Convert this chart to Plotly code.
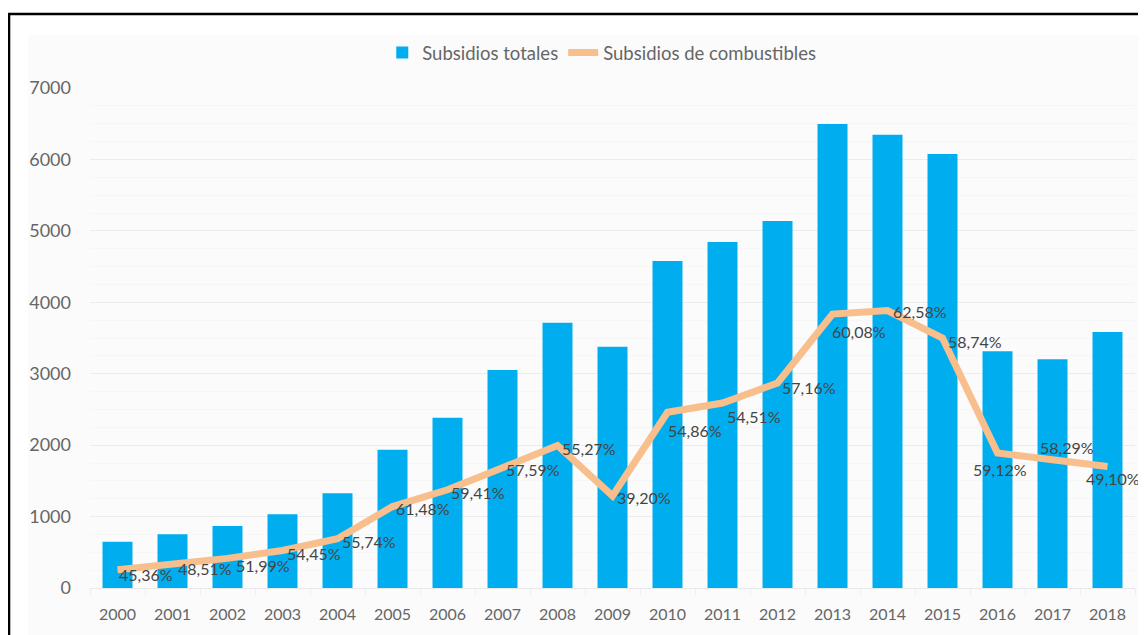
import plotly.graph_objects as go

years = [str(y) for y in range(2000, 2019)]
subsidios_totales = [648, 751, 868, 1031, 1325, 1935, 2385, 3052, 3714, 3378,
                     4578, 4844, 5138, 6496, 6346, 6076, 3314, 3202, 3584]
subsidios_combustibles = [255, 335, 415, 525, 690, 1140, 1375, 1685, 1995, 1290,
                          2460, 2590, 2870, 3835, 3885, 3500, 1890, 1795, 1700]
etiquetas = ["45,36%", "48,51%", "51,99%", "54,45%", "55,74%", "61,48%", "59,41%",
             "57,59%", "55,27%", "39,20%", "54,86%", "54,51%", "57,16%", "60,08%",
             "62,58%", "58,74%", "59,12%", "58,29%", "49,10%"]
# label offsets from each line point (pixels: right, down)
desplaz_x = [28, 32, 35, 31, 31, 30, 30, 30, 31, 31, 27, 31, 31, 26, 32, 32, 2, 14, 5]
desplaz_y = [5, 4, 7, 3, 3, 2, 3, 2, 3, 2, 18, 13, 4, 17, 1, 3, 16, -12, 12]

# page body margin offsets the figure by 8px inside the window
OFF = 8
W, H = 1146 - OFF, 635 - OFF
L = 90 - OFF
T = 88 - OFF
B = H - (588 - OFF)
R = W - (1135.5 - OFF)
PW, PH = W - L - R, H - T - B


def sx(x):
    """screen x -> paper x"""
    return (x - OFF - L) / PW


def sy(y):
    """screen y -> paper y"""
    return (H - B - (y - OFF)) / PH


FONT = "Lato"

fig = go.Figure()
fig.add_trace(go.Bar(
    x=years, y=subsidios_totales, name="Subsidios totales",
    marker=dict(color="#00AEEF", line=dict(width=0)),
))
fig.add_trace(go.Scatter(
    x=years, y=subsidios_combustibles, name="Subsidios de combustibles",
    mode="lines", line=dict(color="#F8BE8C", width=7),
))

annotations = [
    dict(x=i, y=yv, xref="x", yref="y", text=t, showarrow=False,
         xanchor="center", yanchor="middle",
         xshift=dx, yshift=-dy, font=dict(family=FONT, size=16, color="#444444"))
    for i, (yv, t, dx, dy) in enumerate(zip(subsidios_combustibles, etiquetas,
                                            desplaz_x, desplaz_y))
]

shapes = [
    # light chart background panel
    dict(type="rect", xref="paper", yref="paper", x0=sx(28), x1=sx(1142),
         y0=sy(645), y1=sy(35), fillcolor="#fbfbfb", line=dict(width=0), layer="below"),
    dict(type="line", xref="paper", yref="paper", x0=sx(1142), x1=sx(1142),
         y0=sy(645), y1=sy(35), line=dict(color="#e2e2e2", width=2)),
    # black frame
    dict(type="line", xref="paper", yref="paper", x0=sx(8), x1=sx(1160),
         y0=sy(14), y1=sy(14), line=dict(color="#000000", width=2.5)),
    dict(type="line", xref="paper", yref="paper", x0=sx(9), x1=sx(9),
         y0=sy(645), y1=sy(14), line=dict(color="#000000", width=2.5)),
]

fig.update_layout(
    width=W, height=H,
    margin=dict(l=L, r=R, t=T, b=B, autoexpand=False),
    paper_bgcolor="#ffffff",
    plot_bgcolor="rgba(0,0,0,0)",
    font=dict(family=FONT, color="#666666"),
    bargap=0.455,
    showlegend=True,
    legend=dict(orientation="h", x=sx(602), xanchor="center", y=sy(53), yanchor="middle",
                font=dict(family=FONT, size=18.5, color="#666666"),
                bgcolor="rgba(0,0,0,0)", traceorder="normal"),
    shapes=shapes,
    annotations=annotations,
    xaxis=dict(
        type="category", range=[-0.5, 18.5], automargin=False,
        showgrid=False, showline=True, linecolor="#e8e8e8", linewidth=1,
        ticks="outside", tickson="boundaries", ticklen=6, tickcolor="#ececec",
        tickfont=dict(family=FONT, size=16, color="#666666"),
        ticklabelstandoff=12,
    ),
    yaxis=dict(
        range=[0, 7000], dtick=1000, automargin=False,
        showgrid=True, gridcolor="#ececec", gridwidth=1,
        zeroline=False, showline=False,
        tickfont=dict(family=FONT, size=18, color="#666666"),
        ticklabelstandoff=18,
        minor=dict(dtick=250, showgrid=True, gridcolor="#f6f6f6", gridwidth=1),
    ),
)

fig.write_html("out.html")
